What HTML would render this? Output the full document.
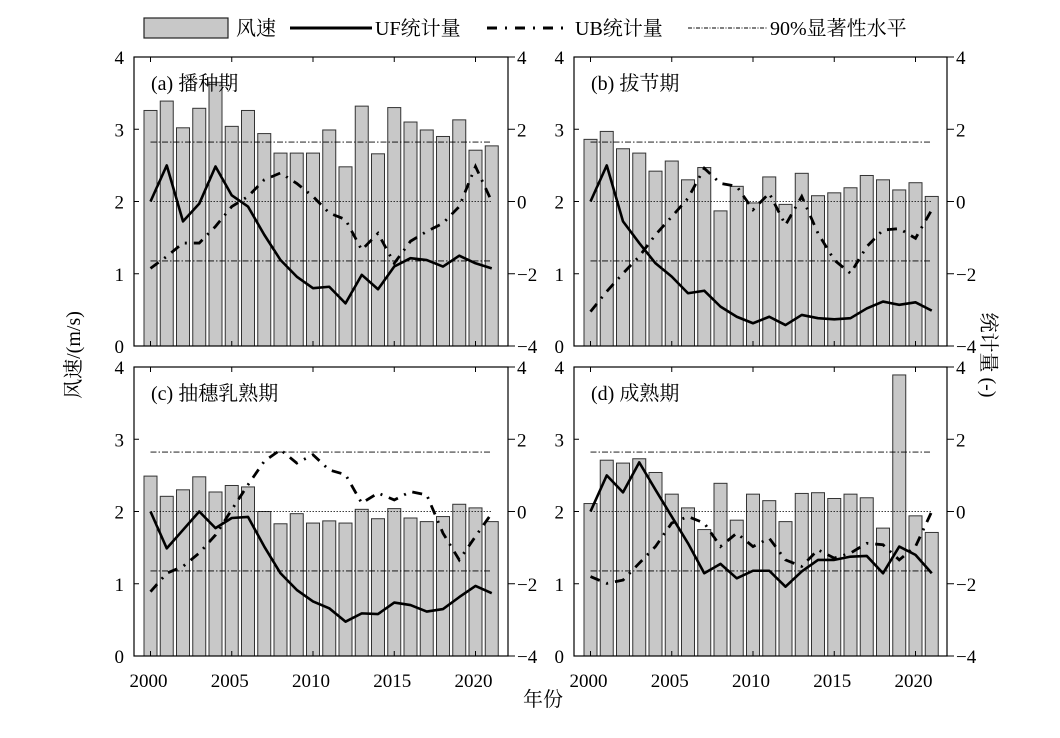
<!DOCTYPE html>
<html><head><meta charset="utf-8"><style>
body{margin:0;background:#fff}
svg{display:block;font-family:"Liberation Serif","Noto Serif CJK SC","Noto Sans CJK SC",serif}
</style></head><body>
<svg id="chart" width="1060" height="738" viewBox="0 0 1060 738">
<g id="legend">
  <rect x="144" y="18" width="84" height="20" fill="#c8c8c8" stroke="#222" stroke-width="1.2"/>
  <text x="236" y="35" font-size="20">风速</text>
  <line x1="290" y1="28" x2="372" y2="28" stroke="#000" stroke-width="3"/>
  <text x="375" y="35" font-size="20">UF统计量</text>
  <line x1="487" y1="28" x2="570" y2="28" stroke="#000" stroke-width="3" stroke-dasharray="10,8,2,8"/>
  <text x="575" y="35" font-size="20">UB统计量</text>
  <line x1="688" y1="28" x2="767" y2="28" stroke="#000" stroke-width="1" stroke-dasharray="4,1.5,1,1.5"/>
  <text x="770" y="35" font-size="20">90%显著性水平</text>
</g>
<text transform="translate(80,355) rotate(-90)" text-anchor="middle" font-size="20">风速/(m/s)</text>
<text transform="translate(982,355) rotate(90)" text-anchor="middle" font-size="20">统计量 (-)</text>
<text x="543" y="706" text-anchor="middle" font-size="20">年份</text>
</svg>
<script>
const years = [2000,2001,2002,2003,2004,2005,2006,2007,2008,2009,2010,2011,2012,2013,2014,2015,2016,2017,2018,2019,2020,2021];
const xTicks = [2000,2005,2010,2015,2020];
const leftTicks = [0,1,2,3,4];
const rightTicks = [-4,-2,0,2,4];
const sigLevel = 1.645;
const panelTitles = ["(a) 播种期","(b) 拔节期","(c) 抽穗乳熟期","(d) 成熟期"];
const windA = [3.26,3.39,3.02,3.29,3.65,3.04,3.26,2.94,2.67,2.67,2.67,2.99,2.48,3.32,2.66,3.30,3.10,2.99,2.90,3.13,2.71,2.77];
const ufA = [0,1.0,-0.55,-0.06,0.97,0.17,-0.14,-0.92,-1.62,-2.08,-2.4,-2.36,-2.82,-2.03,-2.43,-1.8,-1.57,-1.62,-1.8,-1.5,-1.71,-1.85];
const ubA = [-1.85,-1.52,-1.15,-1.15,-0.69,-0.14,0.14,0.6,0.79,0.5,0.14,-0.32,-0.5,-1.34,-0.88,-1.71,-1.1,-0.83,-0.6,-0.14,0.97,0];
const windB = [2.86,2.97,2.73,2.67,2.42,2.56,2.30,2.47,1.87,2.21,1.98,2.34,1.96,2.39,2.08,2.12,2.19,2.36,2.30,2.16,2.26,2.07];
const ufB = [0,1.0,-0.55,-1.15,-1.71,-2.08,-2.54,-2.47,-2.91,-3.19,-3.37,-3.19,-3.42,-3.14,-3.23,-3.26,-3.23,-2.96,-2.77,-2.86,-2.79,-3.02];
const ubB = [-3.05,-2.49,-1.99,-1.52,-0.92,-0.42,0.09,0.92,0.5,0.42,-0.23,0.23,-0.65,0.14,-0.88,-1.62,-1.99,-1.25,-0.79,-0.75,-1.02,-0.23];
const windC = [2.49,2.21,2.30,2.48,2.27,2.36,2.34,2.0,1.83,1.97,1.84,1.87,1.84,2.03,1.9,2.04,1.91,1.86,1.93,2.1,2.05,1.86];
const ufC = [0,-1.02,-0.51,0,-0.46,-0.18,-0.15,-0.97,-1.71,-2.17,-2.49,-2.68,-3.05,-2.82,-2.84,-2.52,-2.59,-2.77,-2.7,-2.37,-2.06,-2.26];
const ubC = [-2.22,-1.71,-1.52,-1.15,-0.65,0.05,0.74,1.39,1.71,1.34,1.57,1.15,1.02,0.23,0.51,0.32,0.55,0.46,-0.6,-1.34,-0.69,-0.05];
const windD = [2.11,2.71,2.67,2.73,2.54,2.24,2.05,1.75,2.39,1.88,2.24,2.15,1.86,2.25,2.26,2.18,2.24,2.19,1.77,3.89,1.94,1.71];
const ufD = [0,1.0,0.53,1.36,0.6,-0.14,-0.88,-1.71,-1.45,-1.85,-1.64,-1.64,-2.08,-1.66,-1.34,-1.34,-1.25,-1.23,-1.71,-0.97,-1.2,-1.71];
const ubD = [-1.8,-1.99,-1.9,-1.43,-0.97,-0.32,-0.14,-0.32,-0.97,-0.6,-0.97,-0.74,-1.34,-1.52,-1.06,-1.29,-1.15,-0.88,-0.92,-1.34,-0.97,0];

const NS = "http://www.w3.org/2000/svg";
const svg = document.getElementById('chart');
function mk(tag, attrs, parent){const e=document.createElementNS(NS,tag);for(const k in attrs)e.setAttribute(k,attrs[k]);(parent||svg).appendChild(e);return e;}

const boxes = [{x0:134,x1:508,y0:57,y1:346},{x0:574,x1:947,y0:57,y1:346},{x0:134,x1:508,y0:367,y1:656},{x0:574,x1:947,y0:367,y1:656}];
const winds=[windA,windB,windC,windD], ufs=[ufA,ufB,ufC,ufD], ubs=[ubA,ubB,ubC,ubD];
const keys=['a','b','c','d'];

boxes.forEach((b,p)=>{
  const g = mk('g',{});
  
  
  const step=16.25;
  const xs = yr => b.x0+16.5+(yr-years[0])*step;
  const yL = v => b.y1-(v/4)*(b.y1-b.y0);
  const yR = v => b.y1-((v+4)/8)*(b.y1-b.y0);
  // bars
  winds[p].forEach((v,i)=>{
    const r=mk('rect',{x:xs(years[i])-6.5,y:yL(v),width:13,height:b.y1-yL(v),fill:'#c8c8c8',stroke:'#333','stroke-width':1},g);
    
    
  });
  // reference lines
  [sigLevel,-sigLevel].forEach((s,k)=>{
    const l=mk('line',{x1:xs(years[0]),x2:xs(years[years.length-1]),y1:yR(s),y2:yR(s),stroke:'#000','stroke-width':0.9,'stroke-dasharray':'6,2,1.5,2'},g);
    
    
  });
  const z=mk('line',{x1:xs(years[0]),x2:xs(years[years.length-1]),y1:yR(0),y2:yR(0),stroke:'#000','stroke-width':0.8,'stroke-dasharray':'1.5,1.5'},g);
  
  
  // UF / UB
  const uf=mk('polyline',{points:ufs[p].map((v,i)=>xs(years[i])+','+yR(v)).join(' '),fill:'none',stroke:'#000','stroke-width':2.6,'stroke-linejoin':'round'},g);
  
  
  const ub=mk('polyline',{points:ubs[p].map((v,i)=>xs(years[i])+','+yR(v)).join(' '),fill:'none',stroke:'#000','stroke-width':2.8,'stroke-dasharray':'10,7,2,7'},g);
  
  
  // frame
  const fr=mk('rect',{x:b.x0,y:b.y0,width:b.x1-b.x0,height:b.y1-b.y0,fill:'none',stroke:'#000','stroke-width':1.2},g);
  
  
  // x ticks
  xTicks.forEach(t=>{
    mk('line',{x1:xs(t),x2:xs(t),y1:b.y0,y2:b.y0+5,stroke:'#000','stroke-width':1},g);
    mk('line',{x1:xs(t),x2:xs(t),y1:b.y1,y2:b.y1-5,stroke:'#000','stroke-width':1},g);
    if(p>=2){
      const tl=mk('text',{x:xs(t)-2,y:b.y1+31,'text-anchor':'middle','font-size':19},g);
      tl.textContent=t;
      
      
    }
  });
  // left ticks
  leftTicks.forEach(t=>{
    mk('line',{x1:b.x0,x2:b.x0+5,y1:yL(t),y2:yL(t),stroke:'#000','stroke-width':1},g);
    const tl=mk('text',{x:b.x0-10,y:yL(t)+7,'text-anchor':'end','font-size':19},g);
    tl.textContent=t;
    
    
  });
  // right ticks
  rightTicks.forEach(t=>{
    mk('line',{x1:b.x1,x2:b.x1+7,y1:yR(t),y2:yR(t),stroke:'#000','stroke-width':1},g);
    const tl=mk('text',{x:b.x1+9,y:yR(t)+7,'text-anchor':'start','font-size':19},g);
    tl.textContent=t<0?'\u2212'+Math.abs(t):String(t);
    
    
  });
  const tt=mk('text',{x:b.x0+17,y:b.y0+33,'font-size':20},g);
  tt.textContent=panelTitles[p];
  
  
});
</script>
</body></html>
